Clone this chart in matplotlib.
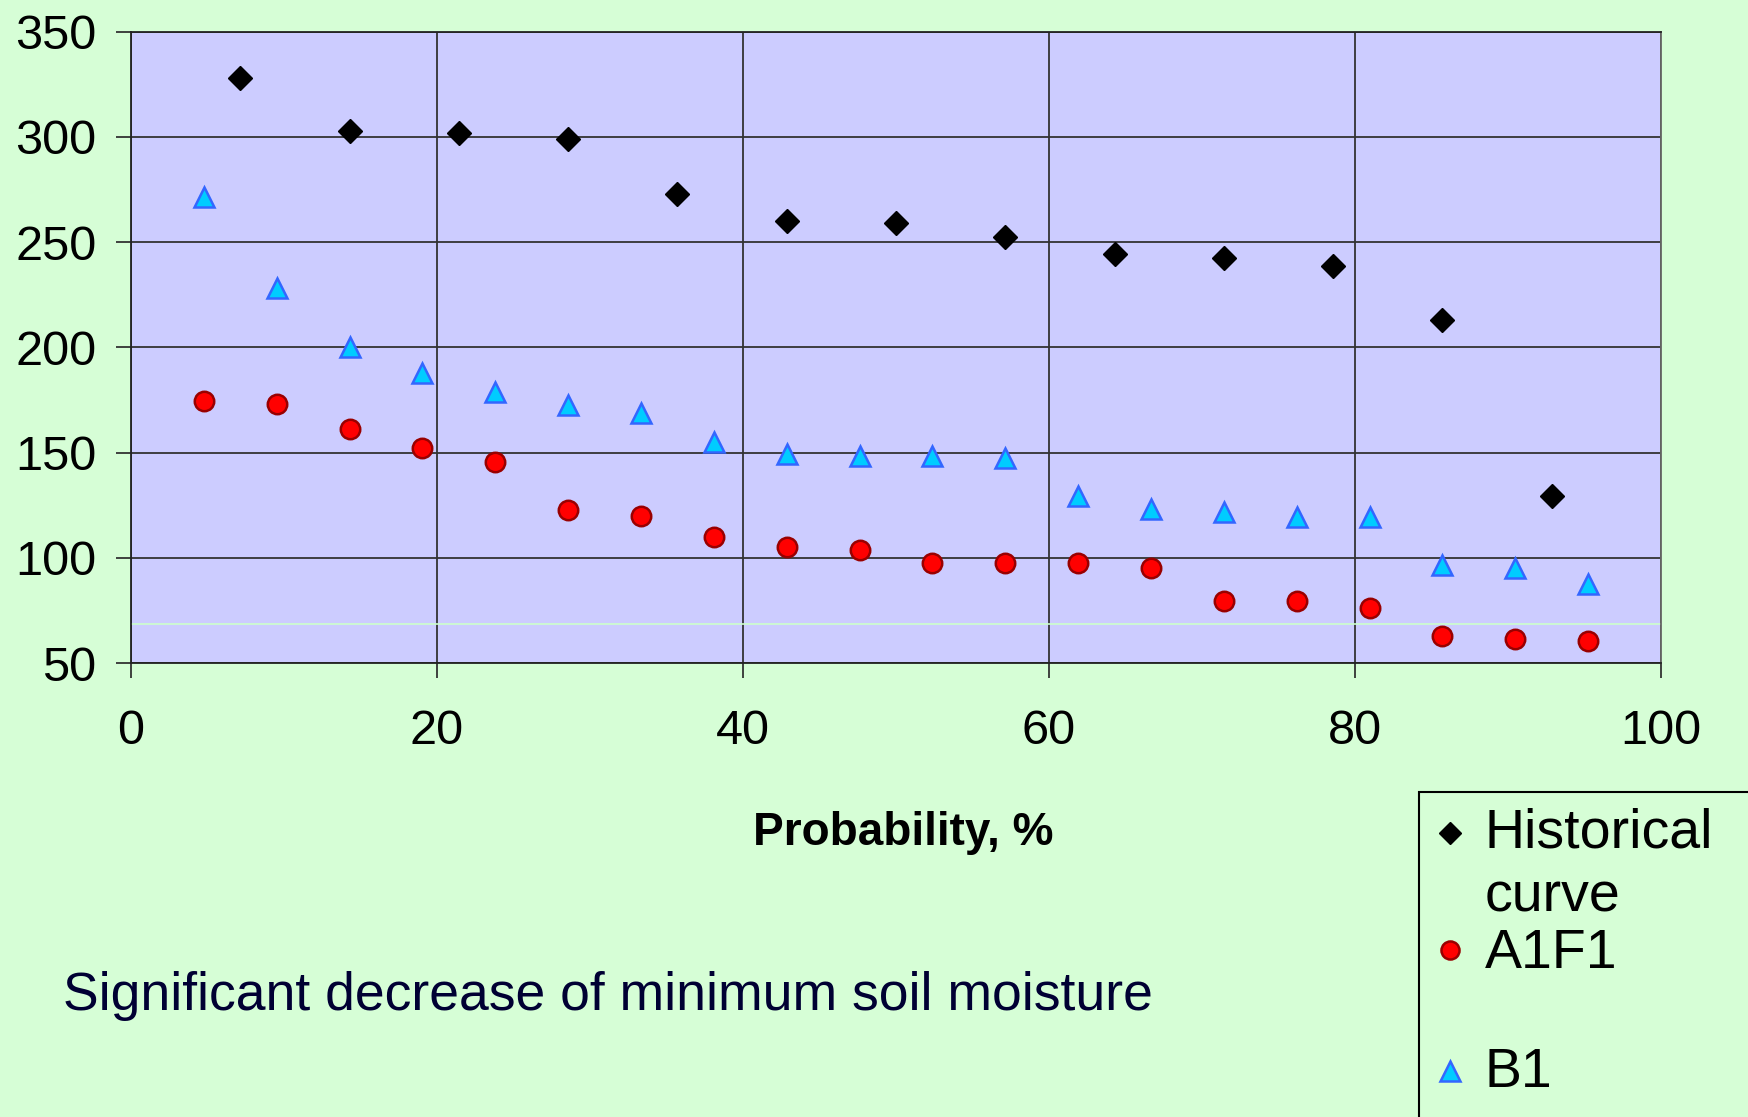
import matplotlib
matplotlib.use("Agg")
import matplotlib.pyplot as plt
from matplotlib.lines import Line2D
from matplotlib.patches import Rectangle

plt.rcParams["font.family"] = ["Liberation Sans", "DejaVu Sans"]

# --- series --------------------------------------------------------------
hist_x = [7.14, 14.29, 21.43, 28.57, 35.71, 42.86, 50.0, 57.14, 64.29,
          71.43, 78.57, 85.71, 92.86]
hist_y = [328, 303, 302, 299, 273, 260, 259, 252.5, 244.5, 242.5, 238.5,
          213, 129.5]

a1f1_x = [4.76, 9.52, 14.29, 19.05, 23.81, 28.57, 33.33, 38.10, 42.86, 47.62,
          52.38, 57.14, 61.90, 66.67, 71.43, 76.19, 80.95, 85.71, 90.48, 95.24]
a1f1_y = [174.5, 173, 161, 152, 145.5, 122.5, 120, 110, 105, 103.5,
          97.5, 97.5, 97.5, 95, 79.5, 79.5, 76, 63, 61.5, 60.5]

b1_x = a1f1_x
b1_y = [271.5, 228, 200, 188, 179, 172.5, 169, 155, 149.5, 148.5,
        148.5, 147.5, 129.5, 123, 122, 119.5, 119.5, 96.5, 95, 87.5]

x_ticks = [0, 20, 40, 60, 80, 100]
y_ticks = [50, 100, 150, 200, 250, 300, 350]

BG = "#D6FED6"
PLOT_BG = "#CCCCFF"

fig = plt.figure(figsize=(17.49, 11.17), dpi=100, facecolor=BG)
ax = fig.add_axes([0.0749, 0.4064, 0.8748, 0.5652], facecolor=PLOT_BG)

ax.set_xlim(0, 100)
ax.set_ylim(50, 350)
ax.set_xticks(x_ticks)
ax.set_yticks(y_ticks)
ax.tick_params(axis="both", direction="out", length=11, width=1.3,
               color="#333333", labelsize=35)
ax.tick_params(axis="x", pad=22)
ax.tick_params(axis="y", pad=14)
for s in ax.spines.values():
    s.set_color("#222222")
    s.set_linewidth(1.3)
ax.spines["right"].set_color("#666666")

ax.grid(True, color="#333333", lw=1.3)
ax.set_axisbelow(True)
# faint light line near the bottom of the plot area
ax.axhline(68.5, color="#CCFFCC", lw=1.2, zorder=1)

ax.plot(hist_x, hist_y, ls="none", marker="D", ms=12, color="black",
        zorder=3)
ax.plot(a1f1_x, a1f1_y, ls="none", marker="o", ms=14, mfc="#FF0000",
        mec="#990000", mew=1.8, zorder=3)
ax.plot(b1_x, b1_y, ls="none", marker="^", ms=15, mfc="#00CCFF",
        mec="#3366FF", mew=1.8, zorder=3)

fig.text(903 / 1749, 1 - 833 / 1117, "Probability, %", fontsize=33,
         fontweight="bold", ha="center", va="center")
fig.text(63 / 1749, 1 - 1010 / 1117,
         "Significant decrease of minimum soil moisture",
         fontsize=38.5, color="#000033", ha="left", va="baseline")

# legend box running off the lower right corner
fig.patches.append(Rectangle((1419 / 1749, -0.01), 0.2, 1 - 792 / 1117 + 0.01,
                             transform=fig.transFigure, facecolor="none",
                             edgecolor="black", lw=1.5))
legend_rows = [
    ("D", dict(ms=11, color="black"), "Historical", 848, 833),
    (None, None, "curve", 912, None),
    ("o", dict(ms=13, mfc="#FF0000", mec="#990000", mew=1.8), "A1F1", 968, 950),
    ("^", dict(ms=14, mfc="#00CCFF", mec="#3366FF", mew=1.8), "B1", 1087, 1071),
]
for marker, style, label, base_y, mark_y in legend_rows:
    if marker is not None:
        fig.lines.append(Line2D([1450 / 1749], [1 - mark_y / 1117],
                                marker=marker, ls="none",
                                transform=fig.transFigure, **style))
    fig.text(1485 / 1749, 1 - base_y / 1117, label, fontsize=40,
             ha="left", va="baseline")

fig.savefig("out.png", dpi=100, facecolor=BG)
